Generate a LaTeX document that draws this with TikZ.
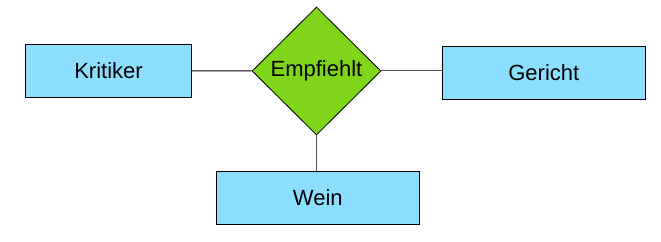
\documentclass[tikz,border=0pt]{standalone}
\usepackage{fontspec}
\setmainfont{Liberation Sans}
\usetikzlibrary{shapes.geometric}
\definecolor{entityblue}{HTML}{8CDEFF}
\definecolor{relgreen}{HTML}{80D41A}
\definecolor{linegray}{HTML}{555555}
\begin{document}
\begin{tikzpicture}[x=1pt,y=1pt,
  entity/.style={draw, rectangle, fill=entityblue, line width=1pt, minimum height=53pt, font=\fontsize{22}{26}\selectfont},
  relation/.style={draw, diamond, fill=relgreen, line width=0.8pt, inner sep=0pt, minimum width=129pt, minimum height=128pt, font=\fontsize{22}{26}\selectfont}]
\useasboundingbox (0,0) rectangle (661,241);
\node[entity, minimum width=166pt] (kritiker) at (108.5,170.2) {Kritiker};
\node[relation] (empfiehlt) at (316.5,170) {Empfiehlt};
\node[entity, minimum width=203pt] (gericht) at (543.8,168.2) {Gericht};
\node[entity, minimum width=203pt] (wein) at (317.8,43.2) {Wein};

\draw[line width=1pt] (kritiker) -- (empfiehlt);
\draw[line width=1pt, linegray] (empfiehlt) -- (gericht.west |- empfiehlt.east);
\draw[line width=1pt, linegray] (empfiehlt.south) -- (empfiehlt.south |- wein.north);
\end{tikzpicture}
\end{document}
